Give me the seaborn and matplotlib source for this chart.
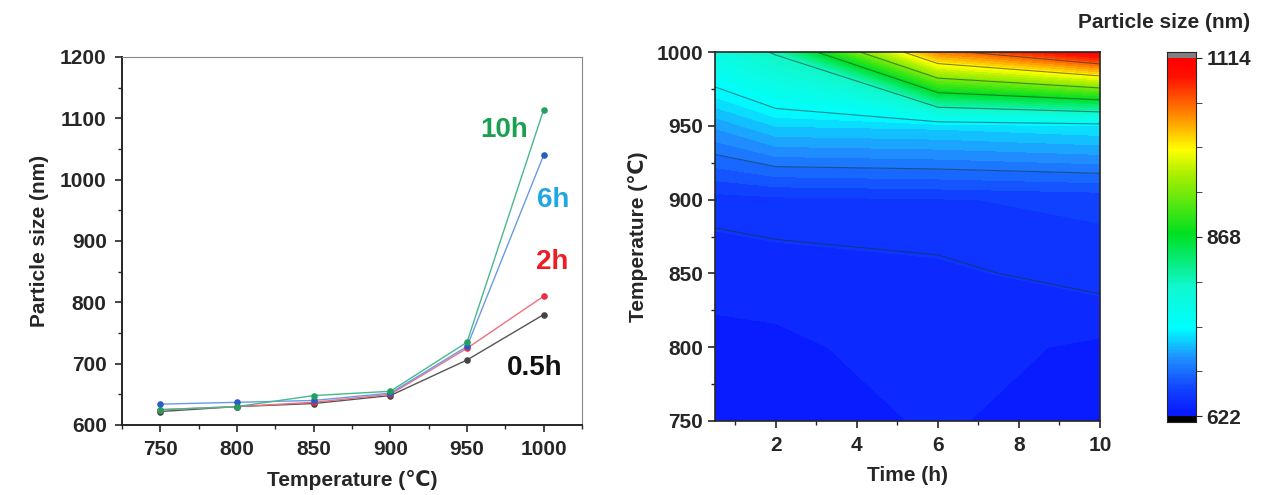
import numpy as np
import pandas as pd
import matplotlib.pyplot as plt
import seaborn as sns
from matplotlib.colors import LinearSegmentedColormap
from matplotlib.ticker import MultipleLocator, FixedLocator

# data
temps = [750, 800, 850, 900, 950, 1000]
times = [0.5, 2, 6, 10]
labels = ["0.5h", "2h", "6h", "10h"]
size_05h = [622, 630, 635, 648, 706, 780]
size_2h = [625, 630, 637, 650, 725, 810]
size_6h = [634, 637, 640, 652, 728, 1040]
size_10h = [625, 630, 648, 655, 735, 1114]
cbar_ticks = [622, 868, 1114]

line_colors = ["#555555", "#f07080", "#6a9ae6", "#48b88c"]
marker_colors = ["#444444", "#e8304a", "#2a5cc8", "#22a060"]
text_colors = ["#111111", "#ee1c25", "#1ea7e1", "#1aa050"]

sns.set_style("ticks")
plt.rcParams["font.family"] = ["Liberation Sans", "DejaVu Sans"]
plt.rcParams["font.weight"] = "bold"

rows = []
for lab, vals in zip(labels, [size_05h, size_2h, size_6h, size_10h]):
    for t, v in zip(temps, vals):
        rows.append({"Temperature": t, "Size": v, "Time": lab})
df = pd.DataFrame(rows)

fig = plt.figure(figsize=(12.67, 4.95), dpi=100)
ax1 = fig.add_axes([122 / 1267, 1 - 425 / 495, 460 / 1267, 368 / 495])
ax2 = fig.add_axes([715 / 1267, 1 - 421 / 495, 385 / 1267, 369 / 495])
cax = fig.add_axes([1167 / 1267, 1 - 422 / 495, 29 / 1267, 370 / 495])

# left: line chart
sns.lineplot(data=df, x="Temperature", y="Size", hue="Time", hue_order=labels,
             palette=line_colors, linewidth=1.0, legend=False, ax=ax1)
for lab, mc in zip(labels, marker_colors):
    sub = df[df["Time"] == lab]
    ax1.scatter(sub["Temperature"], sub["Size"], s=14, color=mc, zorder=3)

ax1.set_xlim(725, 1025)
ax1.set_ylim(600, 1200)
ax1.set_xticks(temps)
ax1.xaxis.set_minor_locator(MultipleLocator(25))
ax1.yaxis.set_major_locator(MultipleLocator(100))
ax1.yaxis.set_minor_locator(MultipleLocator(50))
ax1.tick_params(axis="both", which="major", labelsize=15, length=5, width=1.2)
ax1.tick_params(axis="x", which="major", pad=6)
ax1.tick_params(axis="y", which="major", pad=6)
ax1.tick_params(axis="both", which="minor", length=3, width=1)
for s in ["top", "right"]:
    ax1.spines[s].set_color("#888888")
for s in ["left", "bottom"]:
    ax1.spines[s].set_linewidth(1.4)
ax1.set_xlabel("Temperature (℃)", fontsize=15, fontweight="bold", labelpad=8)
ax1.set_ylabel("Particle size (nm)", fontsize=15, fontweight="bold", labelpad=8)
for lab, tc, (x, y) in zip(labels, text_colors,
                           [(1012, 693), (1016, 866), (1017, 967), (990, 1081)]):
    ax1.text(x, y, lab, color=tc, fontsize=20, fontweight="bold", ha="right", va="center")

# right: contour map
rainbow = LinearSegmentedColormap.from_list(
    "rainbow_bc",
    [(0.0, "#0818ff"), (0.07, "#1040ff"), (0.16, "#2090ff"), (0.245, "#00ffff"),
     (0.36, "#10f8d0"), (0.51, "#00e020"), (0.68, "#b0f000"), (0.745, "#ffff00"),
     (0.85, "#ff8000"), (0.95, "#ff1000"), (1.0, "#ff0000")])
rainbow.set_over("#808080")
rainbow.set_under("black")

Z = np.array([size_05h, size_2h, size_6h, size_10h]).T
levels = np.linspace(622, 1114, 49)
ax2.contourf(times, temps, Z, levels=levels, cmap=rainbow)
line_levels = [643] + list(np.linspace(622, 1114, 9)[1:-1])
ax2.contour(times, temps, Z, levels=line_levels, colors="#1a3030",
            linewidths=0.8, alpha=0.55)
ax2.set_xlim(0.5, 10)
ax2.set_ylim(750, 1000)
ax2.set_xticks([2, 4, 6, 8, 10])
ax2.xaxis.set_minor_locator(MultipleLocator(1))
ax2.yaxis.set_major_locator(MultipleLocator(50))
ax2.yaxis.set_minor_locator(MultipleLocator(25))
ax2.tick_params(axis="both", which="major", labelsize=15, length=5, width=1.2)
ax2.tick_params(axis="x", which="major", pad=6)
ax2.tick_params(axis="both", which="minor", length=3, width=1)
for s in ax2.spines.values():
    s.set_linewidth(1.2)
ax2.set_xlabel("Time (h)", fontsize=15, fontweight="bold", labelpad=8)
ax2.set_ylabel("Temperature (℃)", fontsize=15, fontweight="bold", labelpad=6)

# colorbar with gray/black end caps
ext = [levels[0] - 8, levels[-1] + 8]
grad = np.linspace(ext[0], ext[-1], 600).reshape(-1, 1)
cax.imshow(grad, aspect="auto", origin="lower", cmap=rainbow,
           norm=plt.Normalize(levels[0], levels[-1]),
           extent=[0, 1, ext[0], ext[-1]], interpolation="nearest")
cax.set_ylim(ext[0], ext[-1])
cax.set_xticks([])
cax.yaxis.tick_right()
cax.set_yticks(cbar_ticks)
cax.yaxis.set_minor_locator(FixedLocator(np.linspace(622, 1114, 9)))
cax.tick_params(axis="y", which="major", labelsize=15, length=4)
cax.tick_params(axis="y", which="minor", length=4)
for s in cax.spines.values():
    s.set_linewidth(0.8)
fig.text(1250 / 1267, 1 - 22 / 495, "Particle size (nm)", fontsize=15,
         fontweight="bold", ha="right", va="center")

fig.savefig("out.png", dpi=100)
